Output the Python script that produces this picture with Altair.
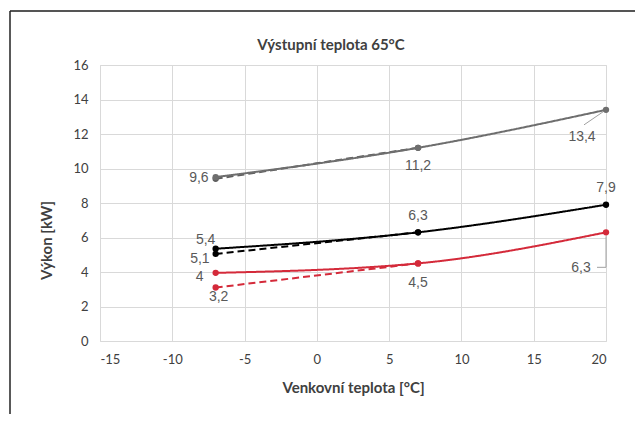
import altair as alt
import pandas as pd

# ---- data ----
temps = [-7, 7, 20]
temps_dashed = [-7, 7]
gray_solid = [9.5, 11.2, 13.4]
gray_dashed = [9.4, 11.2]
black_solid = [5.35, 6.3, 7.9]
black_dashed = [5.05, 6.3]
red_solid = [3.95, 4.5, 6.3]
red_dashed = [3.1, 4.5]

label_texts = ["9,6", "11,2", "13,4", "5,4", "6,3", "7,9", "5,1", "4", "4,5", "6,3", "3,2"]
label_x = [-7, 7, 20, -7, 7, 20, -7, -7, 7, 20, -7]
label_y = [9.5, 11.2, 13.4, 5.35, 6.3, 7.9, 5.05, 3.95, 4.5, 6.3, 3.1]

x_ticks = [-15, -10, -5, 0, 5, 10, 15, 20]
y_ticks = [0, 2, 4, 6, 8, 10, 12, 14, 16]
title_text = "Výstupní teplota 65°C"

# ---- styling (not data) ----
GRAY = "#6e6e6e"
BLACK = "#000000"
RED = "#d42a3a"
LABEL_COLOR = "#595959"
TXT = "#404040"
# (dx, dy, align) for each label, in order
label_style = [
    (-7, 1, "right"), (0, 18, "center"), (-24, 27, "center"),
    (-10, -9, "center"), (0, -16, "center"), (0, -17, "center"),
    (-6, 5, "right"), (-12, 4, "right"), (0, 20, "center"),
    (-25, 36, "center"), (3, 9, "center"),
]

W, H = 506, 276
PL, PT = 92, 57
CW, CH = 627, 406

xs = alt.Scale(domain=[-15, 20], nice=False)
ys = alt.Scale(domain=[0, 16], nice=False)

x_axis = alt.Axis(
    values=x_ticks, tickCount=8, title="Venkovní teplota [°C]", labelExpr="toString(datum.value)",
    grid=True, ticks=False, domain=False, labelPadding=12, titlePadding=14,
    labelFontSize=13, labelColor=TXT, labelFont="Lato", labelOverlap=False,
    titleFont="Lato", titleFontSize=15, titleFontWeight="bold", titleColor=TXT,
    gridColor="#d9d9d9")
y_axis = alt.Axis(
    values=y_ticks, tickCount=9, title="Výkon [kW]", grid=True, ticks=False, domain=False,
    labelPadding=12, titlePadding=18, titleY=175, labelFontSize=13, labelColor=TXT, labelFont="Lato",
    titleFont="Lato", titleFontSize=15, titleFontWeight="bold", titleColor=TXT,
    gridColor="#d9d9d9", labelOverlap=False)

X = alt.X("x:Q", scale=xs, axis=x_axis)
Y = alt.Y("y:Q", scale=ys, axis=y_axis)


def series(xv, yv, color, dashed):
    df = pd.DataFrame({"x": xv, "y": yv})
    base = alt.Chart(df)
    line = base.mark_line(color=color, strokeWidth=2, interpolate="monotone",
                          strokeDash=[7, 4] if dashed else [1, 0]).encode(x=X, y=Y)
    pts = base.mark_point(filled=True, size=40, opacity=1, color=color).encode(x=X, y=Y)
    return line + pts


layers = []
# frame
one = pd.DataFrame({"a": [0]})
layers.append(alt.Chart(one).mark_rule(color="#555555", strokeWidth=2).encode(
    x=alt.value(10 - 8 - PL), x2=alt.value(CW - PL), y=alt.value(11 - 8 - PT)))
layers.append(alt.Chart(one).mark_rule(color="#222222", strokeWidth=1.5).encode(
    x=alt.value(10 - 8 - PL), y=alt.value(11 - 8 - PT), y2=alt.value(CH - PT)))

# title as text
layers.append(alt.Chart(pd.DataFrame({"t": [title_text]})).mark_text(
    font="Lato", fontSize=15, fontWeight="bold", color=TXT, align="center", baseline="middle").encode(
    x=alt.value(331 - 8 - PL), y=alt.value(45 - 8 - PT), text="t:N"))

layers.append(series(temps_dashed, gray_dashed, "#5e5e5e", True))
layers.append(series(temps, gray_solid, GRAY, False))
layers.append(series(temps_dashed, black_dashed, BLACK, True))
layers.append(series(temps, black_solid, BLACK, False))
layers.append(series(temps_dashed, red_dashed, RED, True))
layers.append(series(temps, red_solid, RED, False))

# leader lines
lead = pd.DataFrame({"x": [20], "y": [13.4]})
layers.append(alt.Chart(lead).mark_rule(color="#a0a0a0", strokeWidth=1, xOffset=-3, yOffset=2,
                                         x2Offset=-22, y2Offset=15).encode(x=X, y=Y, x2="x:Q", y2="y:Q"))
lead2 = pd.DataFrame({"x": [20], "y": [6.3]})
layers.append(alt.Chart(lead2).mark_rule(color="#a0a0a0", strokeWidth=1, yOffset=4,
                                          y2Offset=35).encode(x=X, y=Y, y2="y:Q"))
layers.append(alt.Chart(lead2).mark_rule(color="#a0a0a0", strokeWidth=1, xOffset=-9, yOffset=35,
                                          x2Offset=0, y2Offset=35).encode(x=X, y=Y, x2="x:Q", y2="y:Q"))

for i, t in enumerate(label_texts):
    dx, dy, al = label_style[i]
    df = pd.DataFrame({"x": [label_x[i]], "y": [label_y[i]], "t": [t]})
    layers.append(alt.Chart(df).mark_text(font="Liberation Sans", fontSize=14, color=LABEL_COLOR,
                                          dx=dx, dy=dy, align=al, baseline="middle").encode(
        x=X, y=Y, text="t:N"))

chart = alt.layer(*layers).properties(
    width=W, height=H,
    padding={"left": PL, "top": PT, "right": CW - PL - W, "bottom": CH - PT - H},
    autosize=alt.AutoSizeParams(type="none"),
).configure_view(stroke=None).configure(background="white")

chart.save("out.html", embed_options={"renderer": "svg", "actions": False})
